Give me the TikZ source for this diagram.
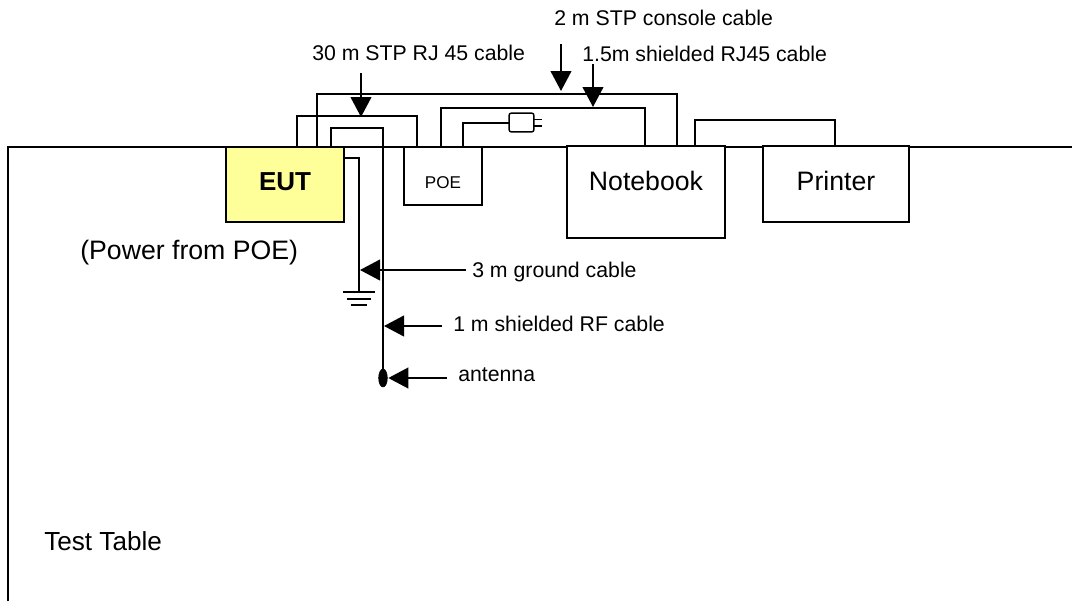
\documentclass[tikz,border=0pt]{standalone}
\usepackage{fontspec}
\setmainfont{Liberation Sans}
\usetikzlibrary{arrows.meta,shapes.geometric,calc}
\tikzset{
  box/.style={draw=black,fill=white,line width=1.5pt,inner sep=0pt,outer sep=0pt,align=center},
  eutbox/.style={box,fill=eutyellow,font=\fontsize{19.5}{22}\selectfont\bfseries},
  bigbox/.style={box,font=\fontsize{20}{24}\selectfont},
  smallbox/.style={box,font=\fontsize{12.8}{15}\selectfont},
  lab/.style={anchor=west,inner sep=0pt,font=\fontsize{15.95}{20}\selectfont},
  biglab/.style={anchor=west,inner sep=0pt,font=\fontsize{20}{24}\selectfont},
  wire/.style={line width=1.5pt,line join=miter},
  thinwire/.style={line width=1.1pt},
  callout/.style={line width=1.5pt,-{Triangle[length=15pt,width=15.5pt]}},
  plugbox/.style={draw=black,fill=white,line width=1.1pt,rounded corners=1.5pt,minimum width=18.5pt,minimum height=14pt,inner sep=0pt,outer sep=0pt}
}
\definecolor{eutyellow}{RGB}{255,255,153}
\begin{document}
\begin{tikzpicture}[x=0.75pt,y=-0.75pt]
\useasboundingbox (0,0) rectangle (1072,601);
% table outline
\coordinate (tblA) at (8,601);
\coordinate (tblB) at (8,147);
\coordinate (tblC) at (1072,147);
\draw[wire] (tblA) -- (tblB) -- (tblC);
% boxes placed first as named anchors
\path (285,184.5) node[eutbox,minimum width=88.5pt,minimum height=56.25pt,text height=14pt,text depth=5.2pt] (EUT) {EUT};
\path (443,176) node[smallbox,minimum width=58.5pt,minimum height=43.5pt,text height=18.2pt,text depth=0pt] (POE) {POE};
\path (646,192) node[bigbox,minimum width=118.5pt,minimum height=69pt,text height=14.5pt,text depth=16.5pt] (NB) {Notebook};
\path (836,184) node[bigbox,minimum width=109.5pt,minimum height=57pt,text height=14.5pt,text depth=4.5pt] (PR) {Printer};
% RJ45 EUT to POE
\coordinate (rjA) at (297,116);
\coordinate (rjB) at (417,116);
\draw[wire] (rjA |- EUT.north) -- (rjA) -- (rjB) -- (rjB |- POE.north);
% console EUT to notebook
\coordinate (conA) at (317,94);
\coordinate (conB) at (677,94);
\draw[wire] (conA |- EUT.north) -- (conA) -- (conB) -- (conB |- NB.north);
% shielded POE to notebook
\coordinate (shA) at (441,108);
\coordinate (shB) at (645,108);
\draw[wire] (shA |- POE.north) -- (shA) -- (shB) -- (shB |- NB.north);
% power plug
\path (521.5,122.5) node[plugbox] (plug) {};
\coordinate (pwA) at (463,122.5);
\draw[wire] (pwA |- POE.north) -- (pwA) -- (plug.west);
\coordinate (prongA) at (542,119.5);
\coordinate (prongB) at (542,126);
\draw[thinwire] (plug.east |- prongA) -- (prongA);
\draw[thinwire] (plug.east |- prongB) -- (prongB);
% notebook to printer
\coordinate (lpA) at (695,120);
\coordinate (lpB) at (835,120);
\draw[wire] (lpA |- NB.north) -- (lpA) -- (lpB) -- (lpB |- PR.north);
% RF cable to antenna
\path (383,378) node[ellipse,draw=black,fill=black,minimum width=6.5pt,minimum height=13.5pt,inner sep=0pt,outer sep=0pt] (ant) {};
\coordinate (rfA) at (331,128);
\coordinate (rfB) at (383,128);
\draw[wire] (rfA |- EUT.north) -- (rfA) -- (rfB) -- (ant.center);
% ground cable
\coordinate (gndA) at (359,158);
\coordinate (gndT) at (359,292);
\draw[wire] (EUT.east |- gndA) -- (gndA) -- (gndT);
\coordinate (gnd2) at (358.5,298.5);
\coordinate (gnd3) at (358.5,304.5);
\draw[wire] ($(gndT)+(-16,0)$) -- ($(gndT)+(16,0)$);
\draw[wire] ($(gnd2)+(-12,0)$) -- ($(gnd2)+(12,0)$);
\draw[wire] ($(gnd3)+(-8,0)$) -- ($(gnd3)+(8,0)$);
% labels
\node[lab] (l30) at (312,53) {30 m STP RJ 45 cable};
\node[lab] (l2) at (554,18) {2 m STP console cable};
\node[lab] (l15) at (582,54) {1.5m shielded RJ45 cable};
\node[lab] (l3) at (472,272) {3 m ground cable};
\node[lab] (l1) at (453,324) {1 m shielded RF cable};
\node[lab] (lant) at (458,375) {antenna};
\node[biglab] (pw) at (80,253) {(Power from POE)};
\node[biglab,font=\fontsize{19.6}{22}\selectfont] (tt) at (44,541) {Test Table};
% callouts
\coordinate (c30s) at (361,73);
\coordinate (c30e) at (361,117);
\draw[callout] (c30s) -- (c30e);
\coordinate (c2s) at (561,44);
\coordinate (c2e) at (561,91);
\draw[callout] (c2s) -- (c2e);
\coordinate (c15s) at (593,64);
\coordinate (c15e) at (593,107);
\draw[callout] (c15s) -- (c15e);
\coordinate (c3s) at (466,270);
\coordinate (c3e) at (360,270);
\draw[callout] (c3s) -- (c3e);
\coordinate (c1s) at (442,326);
\coordinate (c1e) at (384,326);
\draw[callout] (c1s) -- (c1e);
\coordinate (cas) at (447,378);
\draw[callout] (cas) -- ($(ant.east)+(1,0)$);
\end{tikzpicture}
\end{document}
